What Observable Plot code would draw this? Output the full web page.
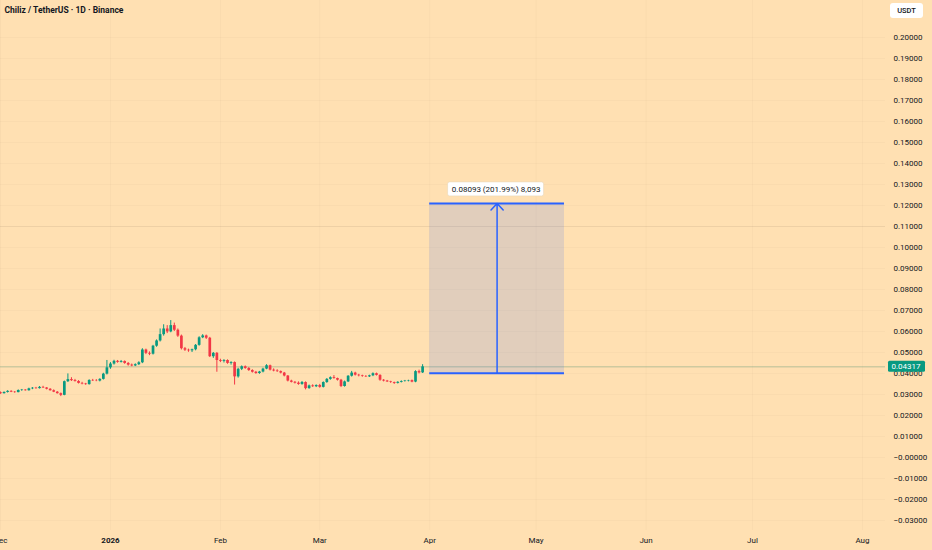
<!DOCTYPE html>
<html><head><meta charset="utf-8">
<script src="https://cdn.jsdelivr.net/npm/d3@7"></script>
<script src="https://cdn.jsdelivr.net/npm/@observablehq/plot@0.6"></script>
<style>
html,body{margin:0;padding:0;background:#ffe0b2;}
#chart{width:932px;height:550px;overflow:hidden;}
svg{display:block;}
</style></head><body><div id="chart"></div>
<script>
const title = "Chiliz / TetherUS · 1D · Binance";
const currency = "USDT";
const startDate = "2025-12-01";
const opens = [
.0308,.0304,.0310,.0315,.0311,.0309,.0319,.0321,.0318,.0327,.0330,.0328,.0334,.0331,.0325,.0318,.0311,.0304,.0296,.0361,.0371,.0366,.0362,.0353,.0350,.0347,.0367,.0365,.0364,.0372,.0397,
.0427,.0445,.0458,.0453,.0457,.0448,.0440,.0436,.0442,.0451,.0512,.0496,.0492,.0530,.0555,.0585,.0612,.0598,.0628,.0606,.0578,.0518,.0511,.0508,.0513,.0534,.0570,.0579,.0568,.0480,.0496,
.0462,.0458,.0462,.0448,.0452,.0384,.0420,.0432,.0424,.0414,.0406,.0400,.0407,.0421,.0437,.0416,.0412,.0409,.0402,.0388,.0364,.0358,.0354,.0348,.0357,.0328,.0341,.0337,
.0343,.0334,.0357,.0372,.0380,.0376,.0368,.0338,.0360,.0387,.0402,.0392,.0389,.0386,.0384,.0389,.0399,.0391,.0368,.0364,.0360,.0357,.0353,.0358,.0362,.0364,.0366,.0359,.0409,.0403];
const highs = [
.0312,.0312,.0318,.0318,.0314,.0322,.0324,.0323,.0330,.0333,.0334,.0338,.0339,.0333,.0328,.0322,.0314,.0307,.0364,.0398,.0380,.0372,.0366,.0358,.0353,.0370,.0372,.0371,.0375,.0401,.0462,
.0452,.0463,.0462,.0462,.0460,.0452,.0445,.0446,.0456,.0518,.0516,.0503,.0534,.0560,.0612,.0632,.0628,.0652,.0640,.0612,.0583,.0524,.0516,.0516,.0538,.0575,.0585,.0583,.0572,.0500,.0500,
.0468,.0466,.0465,.0456,.0455,.0425,.0436,.0436,.0428,.0418,.0410,.0410,.0425,.0442,.0440,.0422,.0418,.0412,.0405,.0390,.0368,.0362,.0360,.0362,.0360,.0345,.0346,.0346,
.0348,.0360,.0376,.0384,.0390,.0378,.0372,.0364,.0390,.0410,.0406,.0396,.0392,.0390,.0392,.0403,.0402,.0394,.0371,.0367,.0363,.0359,.0361,.0365,.0367,.0368,.0369,.0413,.0416,.0442];
const lows = [
.0301,.0302,.0307,.0309,.0306,.0308,.0315,.0316,.0316,.0323,.0325,.0326,.0329,.0322,.0316,.0309,.0302,.0290,.0294,.0357,.0362,.0359,.0350,.0346,.0344,.0345,.0362,.0361,.0360,.0369,.0393,
.0420,.0440,.0449,.0450,.0444,.0435,.0432,.0433,.0438,.0447,.0490,.0485,.0488,.0525,.0550,.0578,.0590,.0594,.0600,.0572,.0512,.0505,.0501,.0500,.0508,.0530,.0566,.0562,.0476,.0472,.0406,
.0452,.0450,.0444,.0440,.0345,.0378,.0414,.0420,.0410,.0402,.0396,.0396,.0403,.0418,.0412,.0408,.0405,.0398,.0384,.0360,.0355,.0350,.0344,.0344,.0322,.0325,.0334,.0333,
.0330,.0331,.0353,.0368,.0373,.0364,.0333,.0335,.0357,.0383,.0388,.0384,.0382,.0381,.0381,.0385,.0388,.0363,.0360,.0357,.0353,.0348,.0350,.0355,.0359,.0360,.0356,.0356,.0398,.0400];
const closes = [
.0304,.0310,.0315,.0311,.0309,.0319,.0321,.0318,.0327,.0330,.0328,.0334,.0331,.0325,.0318,.0311,.0304,.0296,.0361,.0371,.0366,.0362,.0353,.0350,.0347,.0367,.0365,.0364,.0372,.0397,.0427,
.0445,.0458,.0453,.0457,.0448,.0440,.0436,.0442,.0451,.0512,.0496,.0492,.0530,.0555,.0585,.0612,.0598,.0628,.0606,.0578,.0518,.0511,.0508,.0513,.0534,.0570,.0579,.0568,.0480,.0496,.0462,
.0458,.0462,.0448,.0452,.0384,.0420,.0432,.0424,.0414,.0406,.0400,.0407,.0421,.0437,.0416,.0412,.0409,.0402,.0388,.0364,.0358,.0354,.0348,.0357,.0328,.0341,.0337,.0343,
.0334,.0357,.0372,.0380,.0376,.0368,.0338,.0360,.0387,.0402,.0392,.0389,.0386,.0384,.0389,.0399,.0391,.0368,.0364,.0360,.0357,.0353,.0358,.0362,.0364,.0366,.0359,.0409,.0403,.04317];
const lastPrice = 0.04317;
const lastPriceLabel = "0.04317";
const measureStart = "2026-04-01", measureEnd = "2026-05-09", measureMid = "2026-04-20";
const measureBase = 0.04007, measureTop = 0.12100;
const measureLabel = "0.08093 (201.99%) 8,093";
const yTicks = [0.20,0.19,0.18,0.17,0.16,0.15,0.14,0.13,0.12,0.11,0.10,0.09,0.08,0.07,0.06,0.05,0.04,0.03,0.02,0.01,0,-0.01,-0.02,-0.03];
const yTickLabels = ["0.20000","0.19000","0.18000","0.17000","0.16000","0.15000","0.14000","0.13000","0.12000","0.11000","0.10000","0.09000","0.08000","0.07000","0.06000","0.05000","0.04000","0.03000","0.02000","0.01000","−0.00000","−0.01000","−0.02000","−0.03000"];
const monthTicks = ["2025-12-01","2026-01-01","2026-02-01","2026-03-01","2026-04-01","2026-05-01","2026-06-01","2026-07-01","2026-08-01"];
const monthLabels = ["Dec","2026","Feb","Mar","Apr","May","Jun","Jul","Aug"];
const yearTick = "2026-01-01";
const highlightLine = 0.11;

const UP = "#089981", DOWN = "#f23645", BLUE = "#2962ff", INK = "#131722";
const FONT = "Roboto, 'Liberation Sans', sans-serif";

const candles = closes.map((c, i) => ({
  date: d3.utcDay.offset(new Date(startDate), i),
  open: opens[i], high: highs[i], low: lows[i], close: c
}));
const monthDates = monthTicks.map(d => new Date(d));
const monthLabelOf = d => monthLabels[monthTicks.indexOf(d.toISOString().slice(0,10))];
const measure = [{x1: new Date(measureStart), x2: new Date(measureEnd), mid: new Date(measureMid),
  base: measureBase, top: measureTop, label: measureLabel}];
const measureLines = [measureBase, measureTop].map(y => ({y, x1: measure[0].x1, x2: measure[0].x2}));
const up = d => d.close >= d.open;
const down = d => d.close < d.open;

const W = 932, H = 550, MR = 47, MB = 20;

function labelBox(index, scales, values, dim) {
  const g = d3.create("svg:g");
  const cx = scales.x(measure[0].mid), cy = scales.y(measure[0].top) - 14;
  g.append("rect").attr("x", cx - 49).attr("y", cy - 7).attr("width", 96).attr("height", 14)
    .attr("rx", 2).attr("fill", "#ffffff").attr("stroke", "#e8d6bb").attr("stroke-width", 0.6);
  return g.node();
}
function priceTag(index, scales, values, dim) {
  const g = d3.create("svg:g");
  const y = scales.y(lastPrice), x0 = dim.width - dim.marginRight + 3;
  g.append("rect").attr("x", x0).attr("y", y - 5.5).attr("width", 37).attr("height", 11)
    .attr("rx", 1.5).attr("fill", UP);
  g.append("text").attr("x", x0 + 3.5).attr("y", y).attr("dy", "0.34em").attr("fill", "#fff")
    .attr("text-anchor", "start")
    .attr("font-size", 8).attr("font-family", FONT).text(lastPriceLabel);
  return g.node();
}
function currencyTag(index, scales, values, dim) {
  const g = d3.create("svg:g");
  const x0 = dim.width - dim.marginRight + 5;
  g.append("rect").attr("x", x0).attr("y", 3).attr("width", 33).attr("height", 15)
    .attr("rx", 3).attr("fill", "#fff");
  g.append("text").attr("x", x0 + 16.5).attr("y", 10.5).attr("dy", "0.34em").attr("text-anchor", "middle")
    .attr("fill", INK).attr("font-size", 7.5).attr("font-weight", 500).attr("font-family", FONT).text(currency);
  return g.node();
}

const chart = Plot.plot({
  width: W, height: H,
  marginTop: 0, marginLeft: 0, marginRight: MR, marginBottom: MB,
  style: {background: "#ffe0b2", fontFamily: FONT, fontSize: "8px", color: INK},
  x: {type: "utc", domain: [new Date("2025-12-01"), new Date("2026-08-07T12:00Z")], axis: null},
  y: {domain: [-0.034762, 0.217619], axis: null},
  marks: [
    Plot.ruleY(yTicks, {stroke: "#000", strokeOpacity: 0.022}),
    Plot.ruleX(monthDates, {stroke: "#000", strokeOpacity: 0.022}),
    Plot.ruleY([highlightLine], {stroke: "#000", strokeOpacity: 0.05}),
    Plot.ruleY([lastPrice], {stroke: "#5f9a78", strokeOpacity: 0.45}),
    Plot.rect(measure, {x1: "x1", x2: "x2", y1: "base", y2: "top", fill: BLUE, fillOpacity: 0.14}),
    Plot.ruleY(measureLines, {y: "y", x1: "x1", x2: "x2", stroke: BLUE, strokeWidth: 2}),
    Plot.arrow(measure, {x1: "mid", x2: "mid", y1: "base", y2: "top", stroke: BLUE, strokeWidth: 1.5, headLength: 9, headAngle: 85}),
    Plot.ruleX(candles, {filter: up, x: "date", y1: "low", y2: "high", stroke: UP, strokeWidth: 1}),
    Plot.ruleX(candles, {filter: down, x: "date", y1: "low", y2: "high", stroke: DOWN, strokeWidth: 1}),
    Plot.ruleX(candles, {filter: up, x: "date", y1: "open", y2: "close", stroke: UP, strokeWidth: 2.7}),
    Plot.ruleX(candles, {filter: down, x: "date", y1: "open", y2: "close", stroke: DOWN, strokeWidth: 2.7}),
    labelBox,
    Plot.text(measure, {x: "mid", y: "top", text: "label", dy: -14, dx: -1, fontSize: 8, fill: INK}),
    Plot.axisY({anchor: "right", ticks: yTicks, tickFormat: d => yTickLabels[yTicks.indexOf(d)], tickSize: 0, tickPadding: 8, fontSize: 8, fill: INK}),
    Plot.axisX({ticks: monthDates.filter(d => d.toISOString().slice(0,10) !== yearTick), tickFormat: monthLabelOf, tickSize: 0, tickPadding: 7, fontSize: 8, fill: INK}),
    Plot.axisX({ticks: [new Date(yearTick)], tickFormat: monthLabelOf, tickSize: 0, tickPadding: 7, fontSize: 8, fontWeight: "bold", fill: INK}),
    priceTag,
    currencyTag,
    Plot.text([title], {frameAnchor: "top-left", dx: 4, dy: 10, text: d => d, textAnchor: "start", lineAnchor: "middle", fontSize: 8.5, fontWeight: "bold", fill: INK})
  ]
});
document.getElementById("chart").appendChild(chart);
</script></body></html>
